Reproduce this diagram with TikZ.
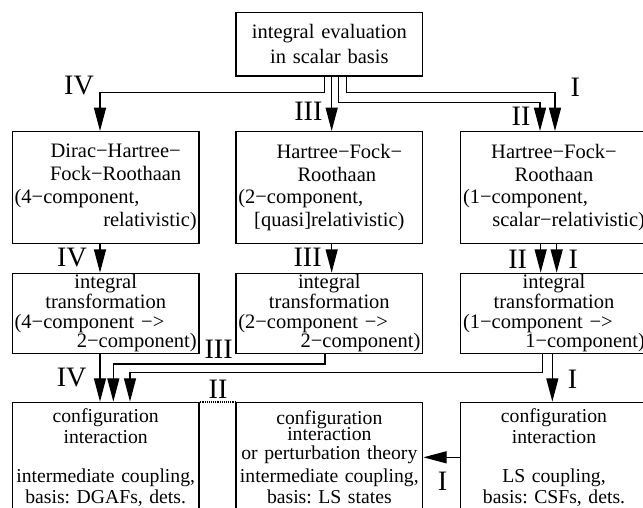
\documentclass[tikz,border=0pt]{standalone}
\usepackage{fontspec}
\setmainfont{Liberation Serif}
\usetikzlibrary{arrows.meta, positioning}
\frenchspacing

\begin{document}
\begin{tikzpicture}[>={Triangle[length=0.7cm, width=0.36cm]}, line width=1.1pt,
  font=\fontsize{17.5}{19.5}\selectfont,
  stage/.style={draw, minimum width=5.6cm, text width=5.46cm, align=center, inner xsep=0.07cm, inner ysep=0pt},
  xform/.style={stage, minimum height=2.4cm, font=\fontsize{17.5}{16.8}\selectfont},
  cistage/.style={stage, anchor=north, minimum height=3.3cm, font=\fontsize{16.8}{18}\selectfont},
  lane/.style={font=\fontsize{24}{24}\selectfont, inner sep=0pt}]

\useasboundingbox (0,0) rectangle (19.29,-15.21);

% --- integral evaluation (top) ---
\node[stage, minimum height=1.9cm] (scalar) at (9.88,-1.33) {integral evaluation\\[2pt]in scalar basis};

% --- SCF stages ---
\node[stage, minimum height=3.35cm] (dhfr) at (3.17,-5.625) {\hspace*{0.6cm}Dirac−Hartree−\\\hspace*{0.6cm}Fock−Roothaan\\(4−component,\hfill\null\\\hspace*{\fill}relativistic)};
\node[stage, minimum height=3.35cm] (hfr2) at (9.88,-5.625) {\hspace*{0.6cm}Hartree−Fock−\\\hspace*{0.45cm}Roothaan\\(2−component,\hfill\null\\{[quasi]}relativistic)};
\node[stage, minimum height=3.35cm] (hfr1) at (16.62,-5.625) {Hartree−Fock−\\Roothaan\\(1−component,\hfill\null\\\hspace*{\fill}scalar−relativistic)};

% --- integral transformations ---
\node[xform] (xf4) at (3.17,-9.40) {integral\\transformation\\(4−component −>\hfill\null\\\hspace*{\fill}2−component)};
\node[xform] (xf2) at (9.88,-9.40) {integral\\transformation\\(2−component −>\hfill\null\\\hspace*{\fill}2−component)};
\node[xform] (xf1) at (16.62,-9.40) {integral\\transformation\\(1−component −>\hfill\null\\\hspace*{\fill}1−component)};

% --- CI / PT stages (bottom, cut by the page) ---
\node[cistage] (ci4) at (3.17,-12.05) {configuration\\interaction\\[15pt]intermediate coupling,\\basis: DGAFs, dets.};
\node[cistage] (ciPT) at (9.88,-12.05) {configuration\\[-4pt]interaction\\[-2pt]or perturbation theory\\[2pt]intermediate coupling,\\basis: LS states};
\node[cistage] (ciLS) at (16.62,-12.05) {configuration\\interaction\\[15pt]LS coupling,\\basis: CSFs, dets.};

% scalar basis -> SCF
\draw[->] ([xshift=-0.15cm]scalar.south) -- ++(0,-0.47) -| ([xshift=-0.17cm]dhfr.north);
\draw[->] ([xshift=0.07cm]scalar.south) -- ([xshift=0.07cm]hfr2.north);
\draw[->] ([xshift=0.27cm]scalar.south) -- ++(0,-0.77) -| ([xshift=-0.42cm]hfr1.north);
\draw[->] ([xshift=0.52cm]scalar.south) -- ++(0,-0.47) -| ([xshift=0.03cm]hfr1.north);

% SCF -> transformation
\draw[->] ([xshift=-0.17cm]dhfr.south) -- ([xshift=-0.17cm]xf4.north);
\draw[->] ([xshift=0.07cm]hfr2.south) -- ([xshift=0.07cm]xf2.north);
\draw[->] ([xshift=-0.40cm]hfr1.south) -- ([xshift=-0.40cm]xf1.north);
\draw[->] ([xshift=0.08cm]hfr1.south) -- ([xshift=0.08cm]xf1.north);

% transformation -> CI
\draw[->] ([xshift=-0.17cm]xf4.south) -- ([xshift=-0.17cm]ci4.north);
\draw[->] ([xshift=-0.13cm]xf2.south) -- ++(0,-0.30) -| ([xshift=0.23cm]ci4.north);
\draw[->] ([xshift=-0.34cm]xf1.south) -- ++(0,-0.55) -| ([xshift=0.73cm]ci4.north);
\draw[->] ([xshift=-0.05cm]xf1.south) -- ([xshift=-0.05cm]ciLS.north);
\draw[dash pattern=on 0.8pt off 0.8pt, line width=2pt] (ci4.north east) -- (ciPT.north west);
\draw[->] (ciLS.west) -- (ciPT.east);

% route labels
\node[lane] (tIVa) at (2.37,-2.58) {IV};
\node[lane] (tIIIa) at (9.25,-3.33) {III};
\node[lane] (tIIa) at (15.63,-3.50) {II};
\node[lane] (tIa) at (17.26,-2.61) {I};
\node[lane] (tIVb) at (2.16,-7.72) {IV};
\node[lane] (tIIIb) at (9.23,-7.72) {III};
\node[lane] (tIIb) at (15.53,-7.78) {II};
\node[lane] (tIb) at (17.20,-7.78) {I};
\node[lane] (tIIIc) at (6.56,-10.47) {III};
\node[lane] (tIVc) at (2.15,-11.34) {IV};
\node[lane] (tIIc) at (6.54,-11.67) {II};
\node[lane] (tIc) at (17.18,-11.37) {I};
\node[lane] (tId) at (13.28,-14.45) {I};

\end{tikzpicture}
\end{document}
